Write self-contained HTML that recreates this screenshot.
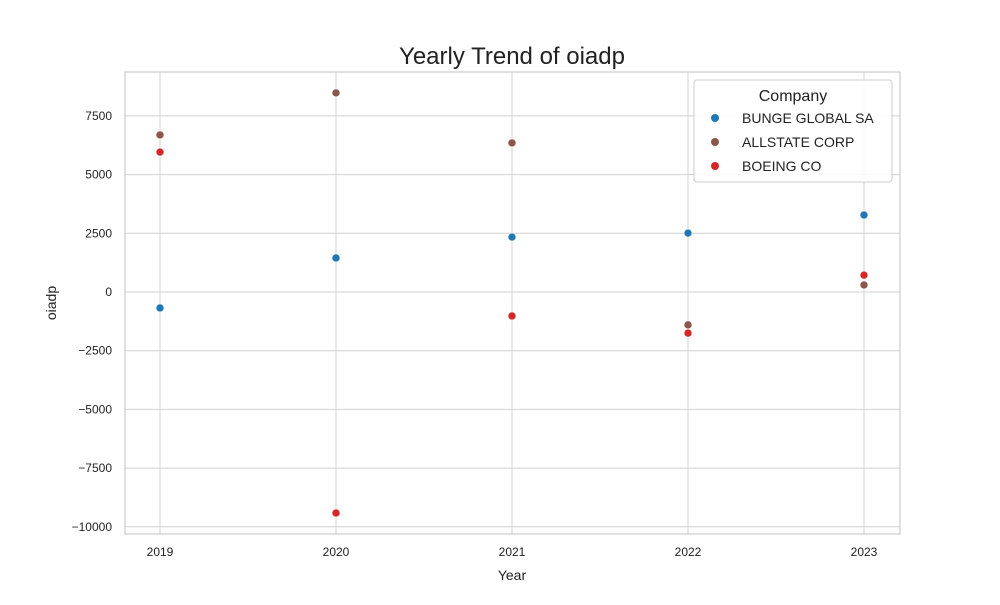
<!DOCTYPE html>
<html><head><meta charset="utf-8"><style>
body{margin:0;background:#fff;}
svg{font-family:"Liberation Sans",sans-serif;}
</style></head><body>
<svg id="chart" width="1000" height="600" viewBox="0 0 1000 600">
<rect width="1000" height="600" fill="#fff"/>
<text x="512" y="64" text-anchor="middle" font-size="24" fill="#222">Yearly Trend of oiadp</text>
<g id="grid"></g>
<g id="marks"></g>
<rect x="125" y="72" width="775" height="462" fill="none" stroke="#ccc" stroke-width="1.2"/>
<text x="512" y="580" text-anchor="middle" font-size="14" fill="#222">Year</text>
<text transform="translate(56,303) rotate(-90)" text-anchor="middle" font-size="14" fill="#222">oiadp</text>
<g>
<rect x="694" y="80" width="198" height="102" rx="3" fill="#fff" fill-opacity="0.85" stroke="#ccc"/>
<text x="793" y="101" text-anchor="middle" font-size="16" fill="#222">Company</text>
<g id="legend-items"></g>
</g>
</svg>
<script>
const years = [2019, 2020, 2021, 2022, 2023];
const yTicks = [-10000, -7500, -5000, -2500, 0, 2500, 5000, 7500];
const seriesNames = ["BUNGE GLOBAL SA", "ALLSTATE CORP", "BOEING CO"];
const seriesColors = ["#1f77b4", "#8c564b", "#d62728"];
const bungeValues = [-680, 1450, 2340, 2510, 3280];
const allstateValues = [6690, 8480, 6350, -1400, 300];
const boeingValues = [5960, -9410, -1020, -1750, 720];
const allSeries = [bungeValues, allstateValues, boeingValues];

const NS = "http://www.w3.org/2000/svg";
function xScale(yr){ return 160 + (yr - 2019) * 176; }
function yScale(v){ return 292 - v * (58.7/2500); }
function mk(tag, attrs, parent){ const e=document.createElementNS(NS,tag); for(const k in attrs) e.setAttribute(k,attrs[k]); parent.appendChild(e); return e; }

const grid = document.getElementById("grid");
yTicks.forEach(t=>{
  const y=yScale(t);
  const l=mk("line",{x1:125,x2:900,y1:y,y2:y,stroke:"#d0d0d0","stroke-width":1},grid);
  
  
  const tx=mk("text",{x:112,y:y+4,"text-anchor":"end","font-size":12,fill:"#222"},grid);
  tx.textContent = t<0 ? "\u2212"+Math.abs(t) : String(t);
  
  
});
years.forEach(yr=>{
  const x=xScale(yr);
  const l=mk("line",{x1:x,x2:x,y1:72,y2:534,stroke:"#d0d0d0","stroke-width":1},grid);
  
  
  const tx=mk("text",{x:x,y:556,"text-anchor":"middle","font-size":12,fill:"#222"},grid);
  tx.textContent=String(yr);
  
  
});
const marks=document.getElementById("marks");
allSeries.forEach((vals,si)=>{
  vals.forEach((v,i)=>{
    const c=mk("circle",{cx:xScale(years[i]),cy:yScale(v),r:4,fill:seriesColors[si],stroke:"#fff","stroke-width":0.6},marks);
    
    
  });
});
const li=document.getElementById("legend-items");
seriesNames.forEach((n,i)=>{
  const y=118+i*24;
  const c=mk("circle",{cx:715,cy:y,r:4,fill:seriesColors[i]},li);
  
  
  const t=mk("text",{x:742,y:y+5,"font-size":14,fill:"#222"},li);
  t.textContent=n;
  
  
});
</script>
</body></html>
